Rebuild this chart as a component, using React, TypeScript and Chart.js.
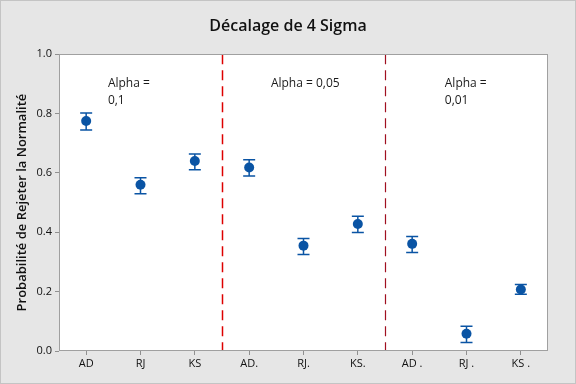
import React, { useEffect, useRef } from "react";
import { Chart, registerables } from "chart.js";

Chart.register(...registerables);

const categories = ["AD", "RJ", "KS", "AD.", "RJ.", "KS.", "AD .", "RJ .", "KS ."];
const means = [0.775, 0.56, 0.64, 0.618, 0.355, 0.428, 0.361, 0.058, 0.207];
const lowers = [0.745, 0.53, 0.611, 0.59, 0.325, 0.399, 0.332, 0.029, 0.191];
const uppers = [0.802, 0.584, 0.664, 0.644, 0.379, 0.454, 0.386, 0.083, 0.224];
const yTicks = [0, 0.2, 0.4, 0.6, 0.8, 1.0];
const separators = [2.5, 5.5];
const separatorColors = ["#dd0000", "#a01020"];
const annotationLines = [["Alpha =", "0,1"], ["Alpha = 0,05"], ["Alpha =", "0,01"]];
const annotationX = [0.4, 3.4, 6.6];
const annotationY = [0.9, 0.9, 0.9];

const FONT = "'Open Sans', 'Noto Sans', sans-serif";
const BLUE = "#0a54a4";

const decorPlugin = {
  id: "decor",
  beforeDraw(chart: any) {
    const { ctx, width, height, chartArea } = chart;
    ctx.save();
    ctx.fillStyle = "#e6e6e6";
    ctx.fillRect(0, 0, width, height);
    ctx.strokeStyle = "#c4c4c4";
    ctx.lineWidth = 1;
    ctx.strokeRect(0.5, 0.5, width - 1, height - 1);
    ctx.fillStyle = "#ffffff";
    ctx.fillRect(chartArea.left, chartArea.top, chartArea.right - chartArea.left, chartArea.bottom - chartArea.top);
    ctx.restore();
  },
  afterDraw(chart: any) {
    const { ctx, chartArea, scales } = chart;
    const xs = scales.x;
    const ys = scales.y;
    ctx.save();
    separators.forEach((s, i) => {
      const px = Math.round(xs.getPixelForValue(s)) + 0.5;
      ctx.strokeStyle = separatorColors[i];
      ctx.lineWidth = i === 0 ? 1.5 : 1.2;
      ctx.setLineDash([10, 6]);
      ctx.beginPath();
      ctx.moveTo(px, chartArea.top);
      ctx.lineTo(px, chartArea.bottom);
      ctx.stroke();
    });
    ctx.setLineDash([]);
    ctx.strokeStyle = "#a0a0a0";
    ctx.lineWidth = 1;
    ctx.strokeRect(
      Math.round(chartArea.left) + 0.5,
      Math.round(chartArea.top) + 0.5,
      Math.round(chartArea.right - chartArea.left) - 1,
      Math.round(chartArea.bottom - chartArea.top) - 1
    );
    ctx.fillStyle = "#1a1a1a";
    ctx.font = `12px ${FONT}`;
    ctx.textBaseline = "middle";
    ctx.textAlign = "left";
    annotationLines.forEach((lines, i) => {
      const x = xs.getPixelForValue(annotationX[i]);
      const y = ys.getPixelForValue(annotationY[i]);
      lines.forEach((t, j) => ctx.fillText(t, x, y + j * 17));
    });
    ctx.strokeStyle = BLUE;
    ctx.lineWidth = 1.5;
    means.forEach((_, i) => {
      const x = xs.getPixelForValue(i);
      const yl = ys.getPixelForValue(lowers[i]);
      const yu = ys.getPixelForValue(uppers[i]);
      ctx.beginPath();
      ctx.moveTo(x, yl);
      ctx.lineTo(x, yu);
      ctx.moveTo(x - 6, yu);
      ctx.lineTo(x + 6, yu);
      ctx.moveTo(x - 6, yl);
      ctx.lineTo(x + 6, yl);
      ctx.stroke();
    });
    ctx.restore();
  },
};

export default function App() {
  const ref = useRef<HTMLCanvasElement>(null);
  useEffect(() => {
    if (!ref.current) return;
    const chart = new Chart(ref.current, {
      type: "line",
      data: {
        labels: categories,
        datasets: [
          {
            data: means,
            showLine: false,
            pointRadius: 5,
            pointHoverRadius: 5,
            pointBackgroundColor: BLUE,
            pointBorderColor: BLUE,
            pointBorderWidth: 0,
          },
        ],
      },
      options: {
        responsive: false,
        animation: false,
        events: [],
        layout: { padding: 0 },
        plugins: {
          legend: { display: false },
          tooltip: { enabled: false },
          title: {
            display: true,
            text: "Décalage de 4 Sigma",
            color: "#111",
            font: { family: FONT, size: 16, weight: "600", lineHeight: 1.2 },
            padding: { top: 17, bottom: 18 },
          },
        },
        scales: {
          x: {
            type: "category",
            offset: true,
            grid: { drawOnChartArea: false, drawTicks: true, tickLength: 4, color: "#909090", offset: false },
            border: { display: false },
            ticks: { color: "#111", font: { family: FONT, size: 11 }, padding: 2, maxRotation: 0 },
            afterFit: (s: any) => { s.height = 33; },
          },
          y: {
            min: 0,
            max: 1,
            afterBuildTicks: (s: any) => { s.ticks = yTicks.map((v) => ({ value: v })); },
            grid: { drawOnChartArea: false, drawTicks: true, tickLength: 4, color: "#909090" },
            border: { display: false },
            ticks: {
              color: "#111",
              font: { family: FONT, size: 11 },
              padding: 3,
              callback: (v: any) => Number(v).toFixed(1),
            },
            title: {
              display: true,
              text: "Probabilité de Rejeter la Normalité",
              color: "#111",
              font: { family: FONT, size: 13, weight: "600", lineHeight: 1.2 },
              padding: { top: 14, bottom: 0 },
            },
            afterFit: (s: any) => { s.width = 59; },
          },
          yRight: {
            position: "right",
            min: 0,
            max: 1,
            grid: { display: false },
            border: { display: false },
            ticks: { display: false },
            afterFit: (s: any) => { s.width = 28; },
          },
        },
      },
      plugins: [decorPlugin],
    });
    return () => chart.destroy();
  }, []);
  return (
    <div style={{ position: "absolute", left: 0, top: 0, width: 576, height: 384 }}>
      <canvas ref={ref} width={576} height={384} style={{ display: "block", width: 576, height: 384 }} />
    </div>
  );
}
